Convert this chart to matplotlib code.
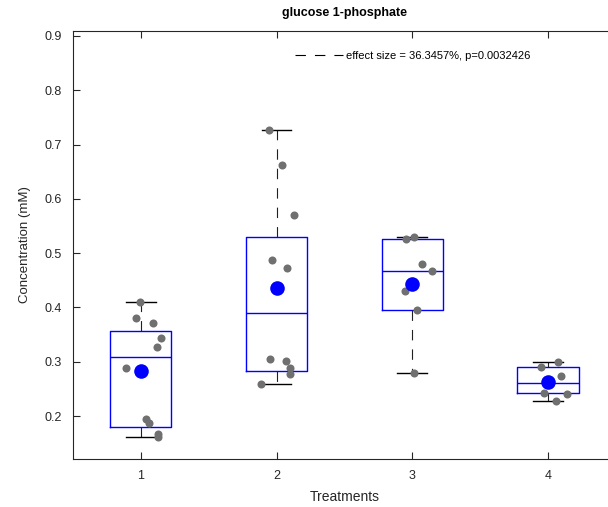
import matplotlib
matplotlib.use("Agg")
import matplotlib.pyplot as plt
from matplotlib.lines import Line2D

plt.rcParams["font.family"] = ["Liberation Sans", "DejaVu Sans"]
plt.rcParams["lines.scale_dashes"] = False

treatments = [1, 2, 3, 4]

# measured concentrations (mM) per treatment, with horizontal jitter of each dot
conc_1 = [0.411, 0.381, 0.371, 0.344, 0.327, 0.289, 0.194, 0.188, 0.167, 0.161]
jitter_1 = [-0.005, -0.035, 0.093, 0.148, 0.118, -0.111, 0.037, 0.061, 0.125, 0.125]
conc_2 = [0.727, 0.662, 0.570, 0.487, 0.473, 0.306, 0.301, 0.288, 0.278, 0.259]
jitter_2 = [-0.054, 0.042, 0.131, -0.032, 0.074, -0.049, 0.069, 0.101, 0.098, -0.113]
conc_3 = [0.526, 0.530, 0.480, 0.468, 0.430, 0.396, 0.279]
jitter_3 = [-0.043, 0.013, 0.075, 0.142, -0.053, 0.035, 0.013]
conc_4 = [0.291, 0.299, 0.273, 0.243, 0.241, 0.227]
jitter_4 = [-0.054, 0.072, 0.098, -0.027, 0.140, 0.057]

# box summary per treatment
whisker_low = [0.162, 0.259, 0.279, 0.227]
q1 = [0.179, 0.283, 0.395, 0.243]
median = [0.308, 0.390, 0.468, 0.261]
q3 = [0.357, 0.529, 0.526, 0.291]
whisker_high = [0.411, 0.727, 0.530, 0.299]
means = [0.283, 0.435, 0.444, 0.262]

legend_text = "effect size = 36.3457%, p=0.0032426"

conc = [conc_1, conc_2, conc_3, conc_4]
jitter = [jitter_1, jitter_2, jitter_3, jitter_4]

fig = plt.figure(figsize=(6.08, 5.07), dpi=100)
ax = fig.add_axes([0.12, 0.0947, 0.893, 0.844])

axis_grey = "#262626"
dashed = (0, (7.5, 6.5))

stats = []
for i in range(len(treatments)):
    stats.append({
        "whislo": whisker_low[i], "q1": q1[i], "med": median[i],
        "q3": q3[i], "whishi": whisker_high[i], "fliers": [],
    })

ax.bxp(stats, positions=treatments, widths=0.45, showfliers=False,
       boxprops=dict(color="#0000ff", linewidth=1.0),
       medianprops=dict(color="#0000ff", linewidth=1.0),
       whiskerprops=dict(color="#202020", linewidth=0.8, linestyle=dashed),
       capprops=dict(color="black", linewidth=1.0),
       capwidths=0.22)

for t, vals, jit in zip(treatments, conc, jitter):
    xs = [t + j for j in jit]
    ax.plot(xs, vals, "o", color="#707070", markersize=5.8,
            markeredgewidth=0, zorder=3)

ax.plot(treatments, means, "o", color="#0000ff", markersize=10.5,
        markeredgewidth=0, zorder=4)

ax.set_xlim(0.5, 4.5)
ax.set_ylim(0.121, 0.909)
ax.set_xticks(treatments)
ax.set_xticklabels([str(t) for t in treatments])
ax.set_yticks([0.2, 0.3, 0.4, 0.5, 0.6, 0.7, 0.8, 0.9])
ax.set_yticklabels(["0.2", "0.3", "0.4", "0.5", "0.6", "0.7", "0.8", "0.9"])

ax.tick_params(direction="in", length=5, width=0.8, colors=axis_grey,
               labelsize=9, top=True, right=True, pad=8)
for side in ax.spines.values():
    side.set_color(axis_grey)
    side.set_linewidth(0.8)

ax.set_xlabel("Treatments", fontsize=10, color=axis_grey, labelpad=5.5)
ax.set_ylabel("Concentration (mM)", fontsize=9.5, color=axis_grey, labelpad=10)
ax.set_title("glucose 1-phosphate", fontsize=9, fontweight="bold", pad=11)

handle = Line2D([], [], color="black", linewidth=0.8, linestyle=dashed)
ax.legend([handle], [legend_text], loc="center left",
          bbox_to_anchor=(295 / 608, 1 - 56 / 507),
          bbox_transform=fig.transFigure, frameon=False, fontsize=8,
          handlelength=4.3, handletextpad=0.3, borderpad=0, borderaxespad=0)

fig.savefig("out.png", dpi=100)
